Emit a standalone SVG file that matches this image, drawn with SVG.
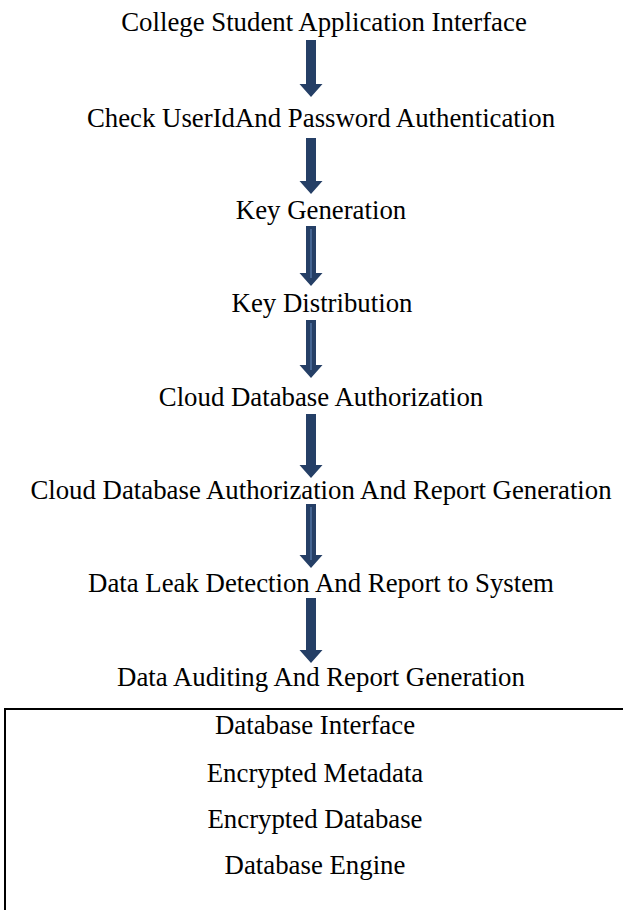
<svg xmlns="http://www.w3.org/2000/svg" width="623" height="910" viewBox="0 0 623 910">
<defs>
<style>
.t{font-family:"Liberation Serif","Times New Roman",serif;font-size:26.8px;fill:#000;text-anchor:middle}
.a{fill:#253f66}
.hl{stroke:#5b7fb0;stroke-width:1.2;fill:none}
</style>
</defs>
<rect width="623" height="910" fill="#fff"/>
<g id="connectors">
<path class="a" d="M306,40 H316 V84 H322.5 L311,97 L299.5,84 H306 Z"/>
<path class="a" d="M306,138 H316 V181 H322.5 L311,194 L299.5,181 H306 Z"/>
<path class="a" d="M306,226 H316 V273 H322.5 L311,286 L299.5,273 H306 Z"/>
<line class="hl" x1="311" y1="229" x2="311" y2="278"/>
<path class="a" d="M306,320 H316 V365 H322.5 L311,378 L299.5,365 H306 Z"/>
<line class="hl" x1="311" y1="323" x2="311" y2="370"/>
<path class="a" d="M306,414 H316 V465 H322.5 L311,478 L299.5,465 H306 Z"/>
<path class="a" d="M306,504 H316 V555 H322.5 L311,568 L299.5,555 H306 Z"/>
<line class="hl" x1="311" y1="507" x2="311" y2="560"/>
<path class="a" d="M306,598 H316 V650 H322.5 L311,663 L299.5,650 H306 Z"/>
</g>
<g id="n1"><text class="t" x="324" y="31">College Student Application Interface</text></g>
<g id="n2"><text class="t" x="321" y="127">Check UserIdAnd Password Authentication</text></g>
<g id="n3"><text class="t" x="321" y="219">Key Generation</text></g>
<g id="n4"><text class="t" x="322" y="312">Key Distribution</text></g>
<g id="n5"><text class="t" x="321" y="406">Cloud Database Authorization</text></g>
<g id="n6"><text class="t" x="321" y="499">Cloud Database Authorization And Report Generation</text></g>
<g id="n7"><text class="t" x="321" y="592">Data Leak Detection And Report to System</text></g>
<g id="n8"><text class="t" x="321" y="686">Data Auditing And Report Generation</text></g>
<g id="db">
<rect x="5" y="709" width="630" height="220" fill="none" stroke="#000" stroke-width="2"/>
<text class="t" x="315" y="734">Database Interface</text>
<text class="t" x="315" y="782">Encrypted Metadata</text>
<text class="t" x="315" y="828">Encrypted Database</text>
<text class="t" x="315" y="874">Database Engine</text>
</g>
</svg>
